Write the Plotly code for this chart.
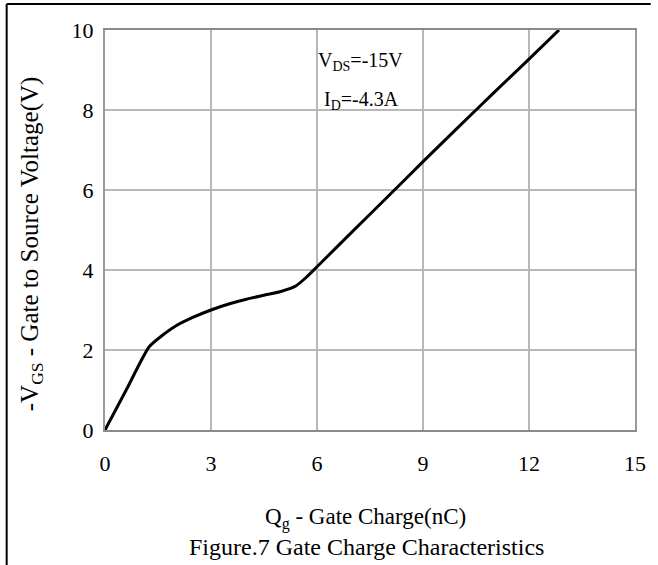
import plotly.graph_objects as go

qg = [0, 0.6, 1.25, 1.6, 2.0, 2.5, 3.0, 3.5, 4.0, 4.5, 5.0, 5.4, 5.7, 6.0, 7, 8, 9, 10, 11, 12, 12.85]
vgs = [0, 1.0, 2.08, 2.35, 2.6, 2.82, 3.0, 3.15, 3.27, 3.37, 3.47, 3.6, 3.82, 4.08, 4.96, 5.83, 6.71, 7.57, 8.43, 9.27, 10.0]

x_ticks = [0, 3, 6, 9, 12, 15]
y_ticks = [0, 2, 4, 6, 8, 10]

FONT = "Liberation Serif, Times New Roman, serif"

fig = go.Figure()
fig.add_trace(go.Scatter(x=qg, y=vgs, mode="lines",
                         line=dict(color="black", width=3, shape="spline", smoothing=0.6),
                         showlegend=False, hoverinfo="skip"))


def ann(text, px, py, size, angle=0):
    return dict(text=text, xref="paper", yref="paper", x=(px - 105) / 539, y=(430 - py) / 400,
                xanchor="center", yanchor="middle", textangle=angle, showarrow=False,
                font=dict(family=FONT, size=size, color="black"))


fig.update_layout(
    width=658, height=565,
    margin=dict(l=105, r=14, t=30, b=135),
    paper_bgcolor="white", plot_bgcolor="white",
    font=dict(family=FONT, size=22, color="black"),
    xaxis=dict(range=[0, 15], tickvals=x_ticks, showgrid=True, gridcolor="#b8b8b8", gridwidth=2,
               zeroline=False, showline=True, linecolor="#8a8a8a", linewidth=2, mirror=True,
               ticks="outside", ticklen=13, tickcolor="rgba(0,0,0,0)",
               tickfont=dict(family=FONT, size=22, color="black")),
    yaxis=dict(range=[0, 10], tickvals=y_ticks, showgrid=True, gridcolor="#b8b8b8", gridwidth=2,
               zeroline=False, showline=True, linecolor="#9a9a9a", linewidth=2, mirror=True,
               ticks="outside", ticklen=5, tickcolor="rgba(0,0,0,0)",
               tickfont=dict(family=FONT, size=22, color="black")),
    annotations=[
        ann("V<sub>DS</sub>=-15V", 365, 62, 20),
        ann("I<sub>D</sub>=-4.3A", 366, 100, 20),
        ann("Q<sub>g</sub> - Gate Charge(nC)", 370, 518, 23),
        ann("Figure.7 Gate Charge Characteristics", 371, 547, 24),
        ann("-V<sub>GS</sub> - Gate to Source Voltage(V)", 31, 244, 25, -90),
    ],
    shapes=[
        dict(type="line", xref="paper", yref="paper", x0=(5 - 105) / 539, x1=(660 - 105) / 539,
             y0=(430 - 4) / 400, y1=(430 - 4) / 400, line=dict(color="black", width=2)),
        dict(type="line", xref="paper", yref="paper", x0=(5 - 105) / 539, x1=(5 - 105) / 539,
             y0=(430 - 4) / 400, y1=(430 - 570) / 400, line=dict(color="black", width=2)),
    ],
)

fig.write_html("out.html")
